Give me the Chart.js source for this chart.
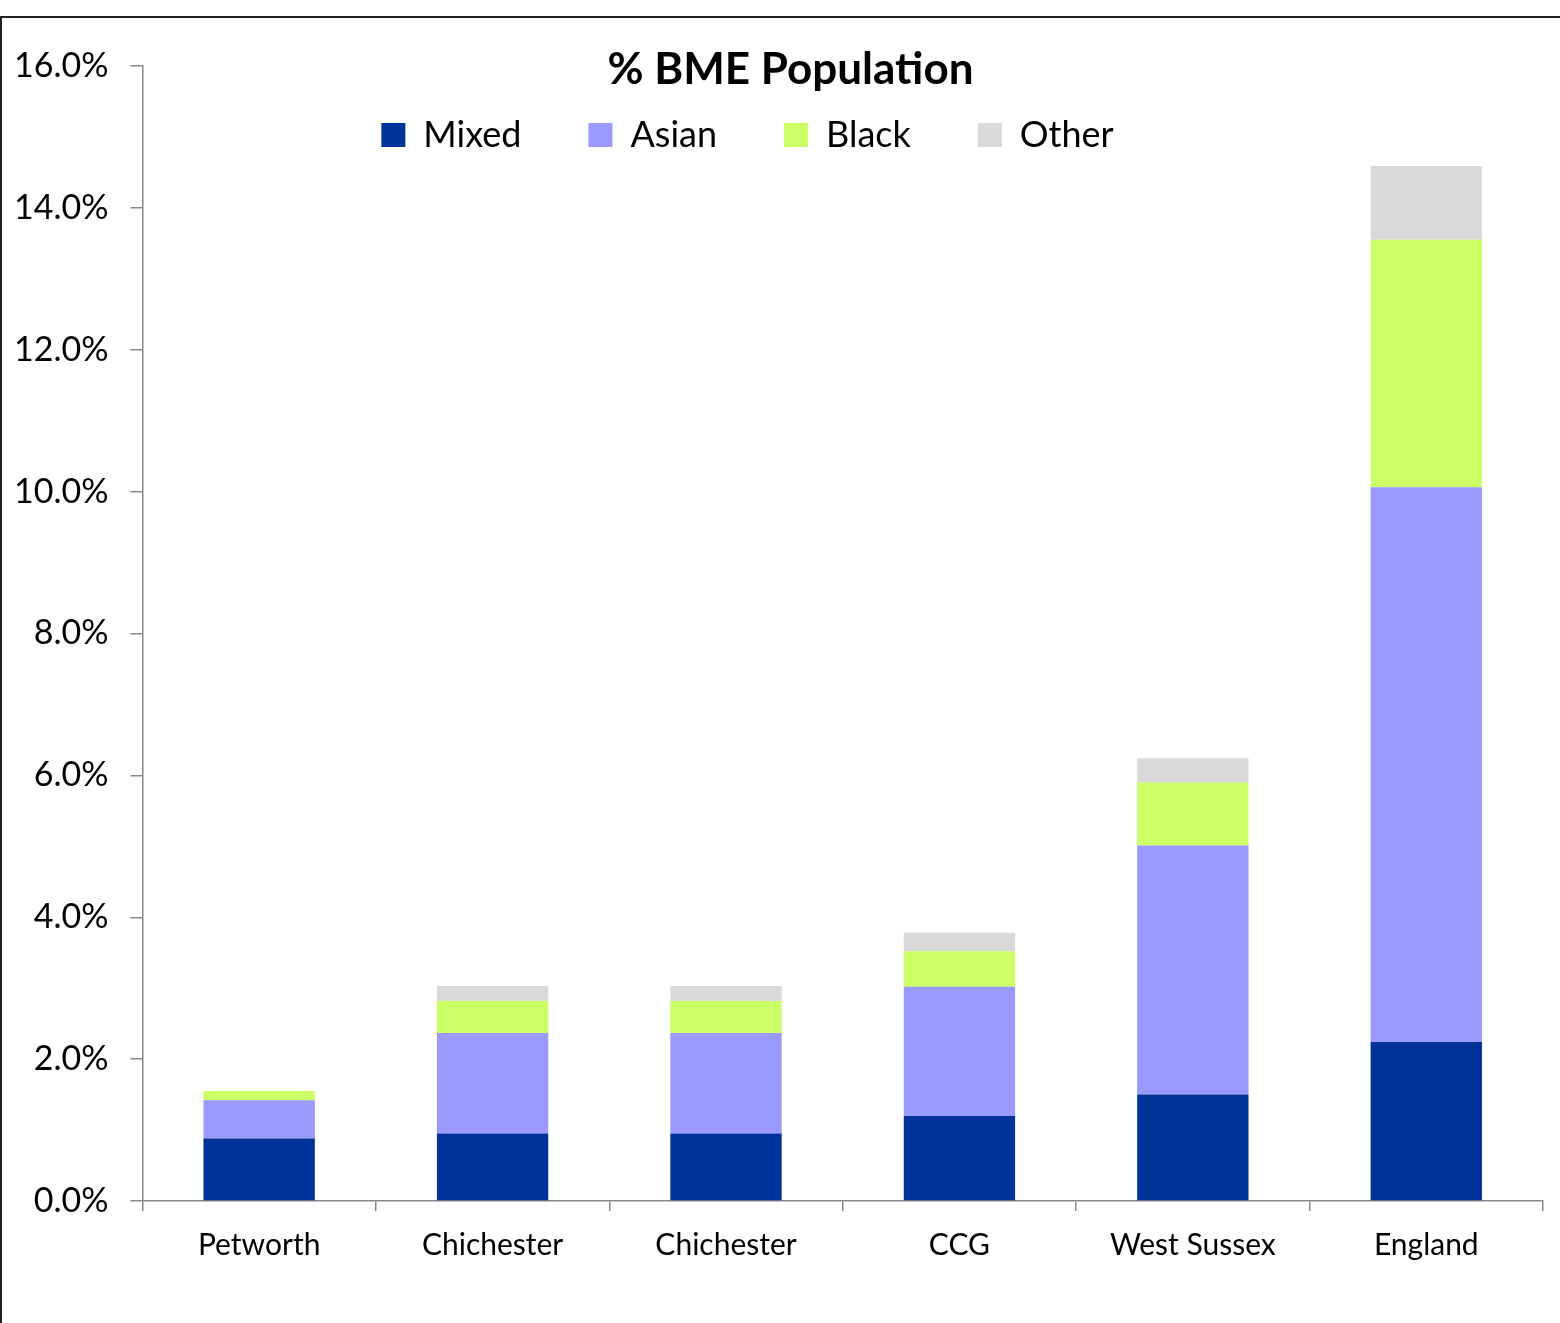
<!DOCTYPE html>
<html>
<head>
<meta charset="utf-8">
<script src="https://cdn.jsdelivr.net/npm/chart.js@4.4.0/dist/chart.umd.min.js"></script>
<style>
  html, body { margin: 0; padding: 0; background: #fff; overflow: hidden; }
  #frame { position: absolute; left: 0; top: 16px; width: 1700px; height: 1500px; border-top: 2px solid #222; border-left: 2px solid #222; }
  #wrap { position: absolute; left: 0; top: 0; width: 1560px; height: 1323px; }
</style>
</head>
<body>
<div id="frame"></div>
<div id="wrap"><canvas id="bme-chart"></canvas></div>
<script>
const categories = ['Petworth', 'Chichester', 'Chichester', 'CCG', 'West Sussex', 'England'];
const mixed = [0.88, 0.95, 0.95, 1.20, 1.50, 2.24];
const asian = [0.54, 1.42, 1.42, 1.82, 3.51, 7.82];
const black = [0.13, 0.45, 0.45, 0.50, 0.89, 3.49];
const other = [0.00, 0.21, 0.21, 0.26, 0.34, 1.04];
const yTicks = [0, 2, 4, 6, 8, 10, 12, 14, 16];

const fontFamily = 'Lato, "Open Sans", sans-serif';
Chart.defaults.font.family = fontFamily;
Chart.defaults.color = '#000';

// title and legend overlap the top of the plot, as in the original
const headerShift = {
    id: 'headerShift',
    afterLayout(chart) {
        const lg = chart.legend;
        if (lg) {
            lg.left -= 20; lg.right -= 20;
            lg.bottom = lg.top + 120;   // let the items show below the squeezed box
        }
        const tt = chart.titleBlock;
        if (tt) { tt.left += 23; tt.right += 23; }
    }
};

const ctx = document.getElementById('bme-chart').getContext('2d');
const chart = new Chart(ctx, {
    type: 'bar',
    data: {
        labels: categories,
        datasets: [
            { label: 'Mixed', data: mixed, backgroundColor: '#003399' },
            { label: 'Asian', data: asian, backgroundColor: '#9999FF' },
            { label: 'Black', data: black, backgroundColor: '#CCFF66' },
            { label: 'Other', data: other, backgroundColor: '#D9D9D9' }
        ]
    },
    options: {
        responsive: true,
        maintainAspectRatio: false,
        animation: false,
        barPercentage: 0.477,
        categoryPercentage: 1,
        layout: { padding: { top: 0, left: -8, right: 17, bottom: 44 } },
        plugins: {
            title: {
                display: true,
                text: '% BME Population',
                font: { size: 44, weight: 'bold', lineHeight: 1.2 },
                color: '#000',
                padding: { top: 43.6, bottom: -46.4 }
            },
            legend: {
                display: true,
                position: 'top',
                maxHeight: 16,
                labels: {
                    boxWidth: 24,
                    boxHeight: 24,
                    padding: 67,
                    font: { size: 36 },
                    color: '#000'
                }
            },
            tooltip: { enabled: false }
        },
        scales: {
            x: {
                stacked: true,
                offset: true,
                grid: { display: true, drawOnChartArea: false, offset: true, tickLength: 10, color: '#888', lineWidth: 1.5 },
                border: { color: '#888', width: 1.5 },
                ticks: { font: { size: 30 }, padding: 16, color: '#000' }
            },
            y: {
                stacked: true,
                min: 0,
                max: 16,
                afterBuildTicks(axis) { axis.ticks = yTicks.map(v => ({ value: v })); },
                grid: { display: true, drawOnChartArea: false, tickLength: 12, color: '#888', lineWidth: 1.5 },
                border: { color: '#888', width: 1.5 },
                ticks: {
                    font: { size: 34 },
                    padding: 22,
                    color: '#000',
                    callback: v => v.toFixed(1) + '%'
                }
            }
        }
    },
    plugins: [headerShift]
});
</script>
</body>
</html>
